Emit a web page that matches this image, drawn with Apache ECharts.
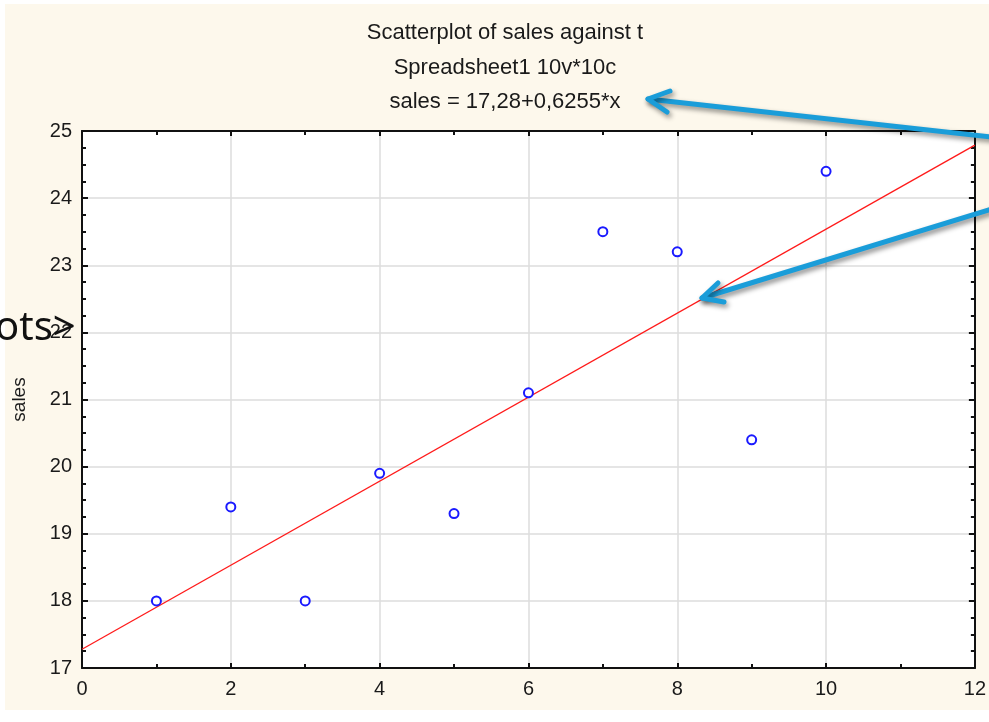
<!DOCTYPE html>
<html>
<head>
<meta charset="utf-8">
<script src="https://cdn.jsdelivr.net/npm/echarts@6/dist/echarts.min.js"></script>
<style>
html,body{margin:0;padding:0;background:#ffffff;}
#wrap{position:absolute;left:0;top:0;width:989px;height:722px;}
#bg{position:absolute;left:5px;top:4px;width:984px;height:706px;background:#fdf8ec;}
#chart{position:absolute;left:0;top:0;width:989px;height:722px;}
</style>
</head>
<body>
<div id="wrap"><div id="bg"></div><div id="chart"></div></div>
<script>
// Data
var tValues = [1, 2, 3, 4, 5, 6, 7, 8, 9, 10];
var salesValues = [18.0, 19.4, 18.0, 19.9, 19.3, 21.1, 23.5, 23.2, 20.4, 24.4];
var fitT = [0, 12];
var fitSales = [17.28, 24.79];
var titleLines = ['Scatterplot of sales against t', 'Spreadsheet1 10v*10c', 'sales = 17,28+0,6255*x'];
var xTicks = [0, 2, 4, 6, 8, 10, 12];
var yTicks = [17, 18, 19, 20, 21, 22, 23, 24, 25];

var FONT = 'Liberation Sans';
var chart = echarts.init(document.getElementById('chart'), null, {renderer: 'canvas'});

var scatterData = tValues.map(function (t, i) { return [t, salesValues[i]]; });
var lineData = fitT.map(function (t, i) { return [t, fitSales[i]]; });

var axisLineStyle = {color: '#111', width: 2};
var arrowColor = '#1a9dd9';
var arrowStyle = {
  stroke: arrowColor, lineWidth: 5, lineCap: 'round', lineJoin: 'round', fill: null,
  shadowBlur: 5, shadowColor: 'rgba(0,0,0,0.45)', shadowOffsetX: 2, shadowOffsetY: 3
};

var option = {
  animation: false,
  backgroundColor: 'transparent',
  title: {
    text: titleLines.join('\n'),
    left: 500,
    top: 11,
    textAlign: 'center',
    textStyle: {fontFamily: FONT, fontSize: 22, fontWeight: 'normal', color: '#1a1a1a', lineHeight: 34.5}
  },
  grid: {left: 82, right: 11, top: 131, bottom: 54, show: true, backgroundColor: '#ffffff', borderWidth: 0},
  xAxis: [{
    type: 'value', min: 0, max: 12, interval: 2,
    axisLine: {show: true, onZero: false, lineStyle: axisLineStyle},
    axisTick: {show: true, inside: true, length: 5, lineStyle: {color: '#111', width: 2}},
    minorTick: {show: true, splitNumber: 2, length: 4, lineStyle: {color: '#111', width: 2}},
    splitLine: {show: true, lineStyle: {color: '#dcdcdc', width: 1.5}},
    axisLabel: {margin: 11, fontFamily: FONT, fontSize: 20, color: '#1a1a1a',
      formatter: function (v) { return xTicks.indexOf(v) >= 0 ? String(v) : ''; }}
  }, {
    type: 'value', position: 'top', min: 0, max: 12, interval: 2,
    axisLine: {show: true, onZero: false, lineStyle: axisLineStyle},
    axisTick: {show: true, inside: true, length: 5, lineStyle: {color: '#111', width: 2}},
    minorTick: {show: true, splitNumber: 2, length: 4, lineStyle: {color: '#111', width: 2}},
    splitLine: {show: false}, axisLabel: {show: false}
  }],
  yAxis: [{
    type: 'value', min: 17, max: 25, interval: 1,
    name: 'sales', nameLocation: 'middle', nameGap: 53, nameRotate: 90,
    nameTextStyle: {fontFamily: FONT, fontSize: 19, color: '#1a1a1a'},
    axisLine: {show: true, onZero: false, lineStyle: axisLineStyle},
    axisTick: {show: true, inside: true, length: 6, lineStyle: {color: '#111', width: 2}},
    minorTick: {show: true, splitNumber: 4, length: 4, lineStyle: {color: '#111', width: 2}},
    splitLine: {show: true, lineStyle: {color: '#dcdcdc', width: 1.5}},
    axisLabel: {margin: 10, fontFamily: FONT, fontSize: 20, color: '#1a1a1a',
      formatter: function (v) { return yTicks.indexOf(v) >= 0 ? String(v) : ''; }}
  }, {
    type: 'value', position: 'right', min: 17, max: 25, interval: 1,
    axisLine: {show: true, onZero: false, lineStyle: axisLineStyle},
    axisTick: {show: true, inside: true, length: 6, lineStyle: {color: '#111', width: 2}},
    minorTick: {show: true, splitNumber: 4, length: 4, lineStyle: {color: '#111', width: 2}},
    splitLine: {show: false}, axisLabel: {show: false}
  }],
  series: [{
    type: 'line',
    data: lineData,
    xAxisIndex: 0, yAxisIndex: 0,
    symbol: 'none',
    lineStyle: {color: '#ff1a1a', width: 1.3},
    z: 3
  }, {
    type: 'scatter',
    data: scatterData,
    xAxisIndex: 0, yAxisIndex: 0,
    symbol: 'emptyCircle',
    symbolSize: 9,
    itemStyle: {color: '#1a1aff', borderColor: '#1a1aff', borderWidth: 1.6, opacity: 1},
    z: 4
  }],
  graphic: [{
    type: 'text', z: 100, left: -5, top: 309,
    style: {text: 'ots>', font: '40px "Noto Sans"', fill: '#111'}
  }, {
    type: 'polyline', z: 100,
    shape: {points: [[992, 137], [648, 99]]}, style: arrowStyle
  }, {
    type: 'polyline', z: 100,
    shape: {points: [[670, 91], [648, 99], [667, 112]]}, style: arrowStyle
  }, {
    type: 'polyline', z: 100,
    shape: {points: [[992, 209], [702, 298]]}, style: arrowStyle
  }, {
    type: 'polyline', z: 100,
    shape: {points: [[718, 283], [702, 298], [724, 302]]}, style: arrowStyle
  }]
};
chart.setOption(option);
</script>
</body>
</html>
